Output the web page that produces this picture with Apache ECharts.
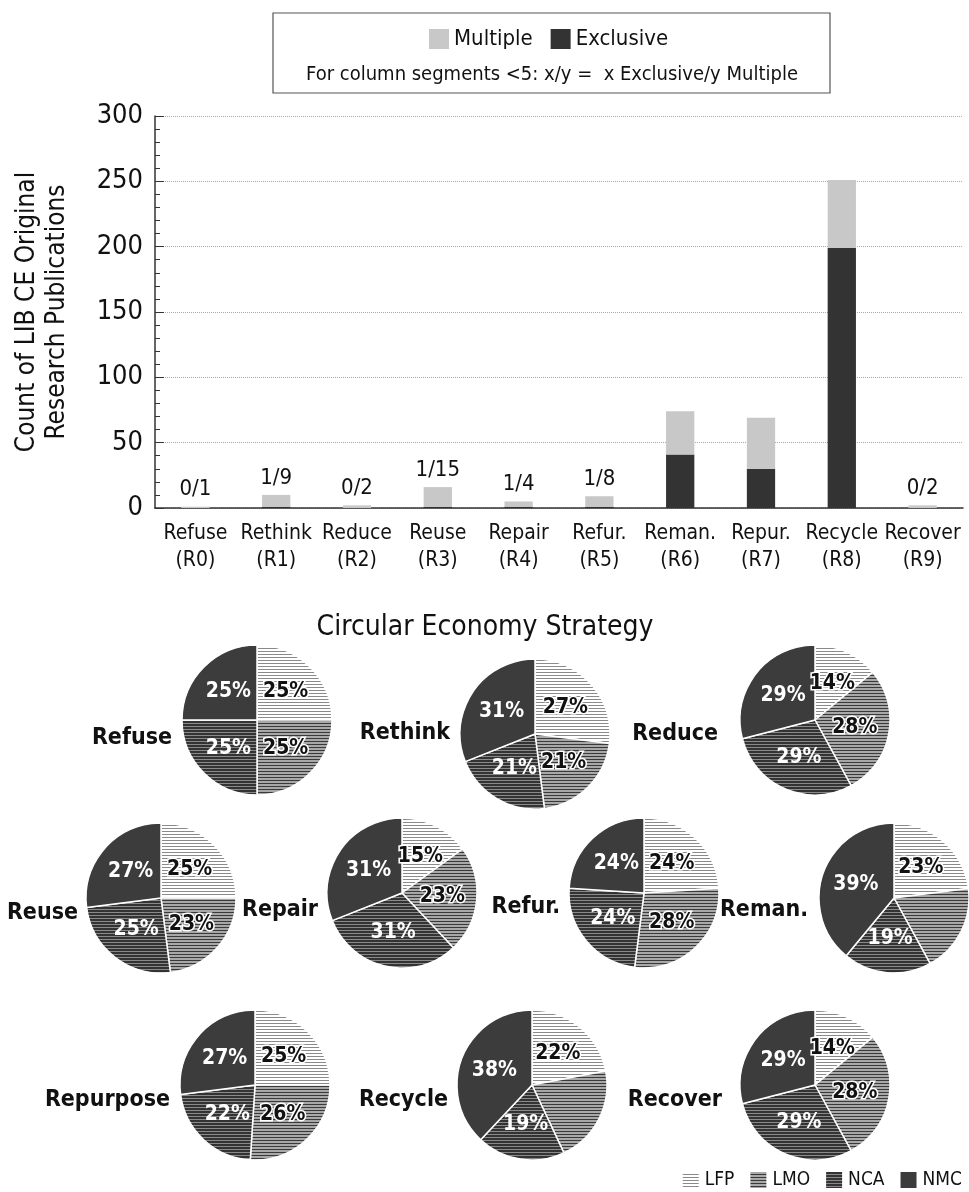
<!DOCTYPE html>
<html>
<head>
<meta charset="utf-8">
<script src="https://cdn.jsdelivr.net/npm/echarts@6/dist/echarts.min.js"></script>
<style>
  html, body { margin: 0; padding: 0; background: #fff; }
  #chart { width: 969px; height: 1192px; }
</style>
</head>
<body>
<div id="chart"></div>
<script>
// bar chart data
var categories = ['Refuse\n(R0)', 'Rethink\n(R1)', 'Reduce\n(R2)', 'Reuse\n(R3)', 'Repair\n(R4)',
                  'Refur.\n(R5)', 'Reman.\n(R6)', 'Repur.\n(R7)', 'Recycle\n(R8)', 'Recover\n(R9)'];
var exclusive = [0, 1, 0, 1, 1, 1, 41, 30, 199, 0];
var multiple = [1, 9, 2, 15, 4, 8, 33, 39, 52, 2];
var segLabels = ['0/1', '1/9', '0/2', '1/15', '1/4', '1/8', '', '', '', '0/2'];

// pie data: share per chemistry, LFP / LMO / NCA / NMC
var chemistries = ['LFP', 'LMO', 'NCA', 'NMC'];
var pieNames = ['Refuse', 'Rethink', 'Reduce', 'Reuse', 'Repair', 'Refur.', 'Reman.', 'Repurpose', 'Recycle', 'Recover'];
var pieShares = [
    [25, 25, 25, 25],
    [27, 21, 21, 31],
    [14, 28, 29, 29],
    [25, 23, 25, 27],
    [15, 23, 31, 31],
    [24, 28, 24, 24],
    [23, 19, 19, 39],
    [25, 26, 22, 27],
    [22, 21, 19, 38],
    [14, 28, 29, 29]
];

var FONT = '"Liberation Sans Narrow", "DejaVu Sans Condensed", "Noto Sans", sans-serif';

// pie layout (centers) and where each name sits
var pieCenters = [
    [257, 720], [535, 734], [815, 720],
    [161, 898], [402, 893], [644, 893], [894, 898],
    [255, 1085], [532, 1085], [815, 1085]
];
var nameSpots = [
    [172, 738], [450, 733], [718, 734],
    [78, 913], [318, 910], [560, 907], [808, 910],
    [170, 1100], [448, 1100], [722, 1100]
];

function stripes(bg, fg, period, lineW) {
    var c = document.createElement('canvas');
    c.width = 4; c.height = period;
    var ctx = c.getContext('2d');
    ctx.fillStyle = bg; ctx.fillRect(0, 0, 4, period);
    ctx.fillStyle = fg; ctx.fillRect(0, 0, 4, lineW);
    return { image: c, repeat: 'repeat' };
}

var fills = [
    stripes('#ffffff', '#8a8a8a', 3, 1),
    stripes('#a8a8a8', '#3a3a3a', 3, 1),
    stripes('#333333', '#8a8a8a', 3, 1),
    '#3c3c3c'
];
var labelColors = ['#111', '#111', '#fff', '#fff'];

var pieSeries = pieShares.map(function (shares, k) {
    return {
        type: 'pie',
        name: pieNames[k],
        center: pieCenters[k],
        radius: 75,
        startAngle: 90,
        clockwise: true,
        silent: true,
        legendHoverLink: false,
        label: {
            position: 'inside',
            formatter: '{c}%',
            fontFamily: FONT,
            fontSize: 21,
            fontWeight: 'bold'
        },
        labelLine: { show: false },
        itemStyle: { borderColor: '#fff', borderWidth: 1.5 },
        data: shares.map(function (v, i) {
            return {
                name: chemistries[i],
                value: v,
                itemStyle: { color: fills[i] },
                label: {
                    color: labelColors[i],
                    textBorderColor: i < 2 ? '#fff' : 'transparent',
                    textBorderWidth: i < 2 ? 3 : 0
                }
            };
        })
    };
});

var graphics = [
    {
        type: 'rect',
        shape: { x: 273, y: 13, width: 557, height: 80 },
        style: { fill: 'none', stroke: '#555', lineWidth: 1.2 }
    },
    {
        type: 'text',
        x: 552, y: 75,
        style: {
            text: 'For column segments <5: x/y =  x Exclusive/y Multiple',
            font: '20px ' + FONT,
            fill: '#111',
            textAlign: 'center',
            textVerticalAlign: 'middle'
        }
    },
    {
        type: 'text',
        x: 485, y: 628,
        style: {
            text: 'Circular Economy Strategy',
            font: '28px ' + FONT,
            fill: '#111',
            textAlign: 'center',
            textVerticalAlign: 'middle'
        }
    }
];
pieNames.forEach(function (n, k) {
    graphics.push({
        type: 'text',
        x: nameSpots[k][0], y: nameSpots[k][1],
        style: {
            text: n,
            font: 'bold 23px ' + FONT,
            fill: '#111',
            textAlign: 'right',
            textVerticalAlign: 'middle'
        }
    });
});

var chart = echarts.init(document.getElementById('chart'));
chart.setOption({
    animation: false,
    backgroundColor: '#fff',
    textStyle: { fontFamily: FONT },
    graphic: graphics,
    legend: [
        {
            data: ['Multiple', 'Exclusive'],
            top: 23,
            left: 424,
            itemGap: 18,
            itemWidth: 20,
            itemHeight: 20,
            icon: 'rect',
            textStyle: { fontFamily: FONT, fontSize: 22, color: '#111' }
        },
        {
            data: chemistries,
            right: 2,
            top: 1165,
            itemGap: 14,
            itemWidth: 18,
            itemHeight: 18,
            icon: 'rect',
            textStyle: { fontFamily: FONT, fontSize: 19, color: '#111' }
        }
    ],
    grid: { left: 155, right: 6, top: 116, bottom: 684 },
    xAxis: {
        type: 'category',
        data: categories,
        axisLine: { lineStyle: { color: '#333', width: 1.5 } },
        axisTick: { show: false },
        axisLabel: {
            interval: 0,
            fontFamily: FONT,
            fontSize: 21,
            lineHeight: 27,
            color: '#111',
            margin: 12
        }
    },
    yAxis: {
        type: 'value',
        min: 0,
        max: 300,
        interval: 50,
        name: 'Count of LIB CE Original\nResearch Publications',
        nameLocation: 'middle',
        nameGap: 83,
        nameTextStyle: { fontFamily: FONT, fontSize: 26, lineHeight: 30, color: '#111' },
        axisLine: { show: true, lineStyle: { color: '#333', width: 1.5 } },
        axisTick: { show: true, inside: true, length: 9, lineStyle: { color: '#333' } },
        minorTick: { show: true, splitNumber: 5, length: 5, lineStyle: { color: '#333' } },
        axisLabel: { fontFamily: FONT, fontSize: 27, color: '#111', margin: 12 },
        splitLine: { show: true, lineStyle: { type: 'dotted', color: '#aaa', width: 1 } }
    },
    series: [
        {
            type: 'bar',
            name: 'Exclusive',
            stack: 'pubs',
            barWidth: '35%',
            itemStyle: { color: '#333333' },
            data: exclusive
        },
        {
            type: 'bar',
            name: 'Multiple',
            stack: 'pubs',
            barWidth: '35%',
            itemStyle: { color: '#c8c8c8' },
            label: {
                show: true,
                position: 'top',
                distance: 6,
                fontFamily: FONT,
                fontSize: 22,
                color: '#111',
                formatter: function (p) { return segLabels[p.dataIndex]; }
            },
            data: multiple
        }
    ].concat(pieSeries)
});
</script>
</body>
</html>
